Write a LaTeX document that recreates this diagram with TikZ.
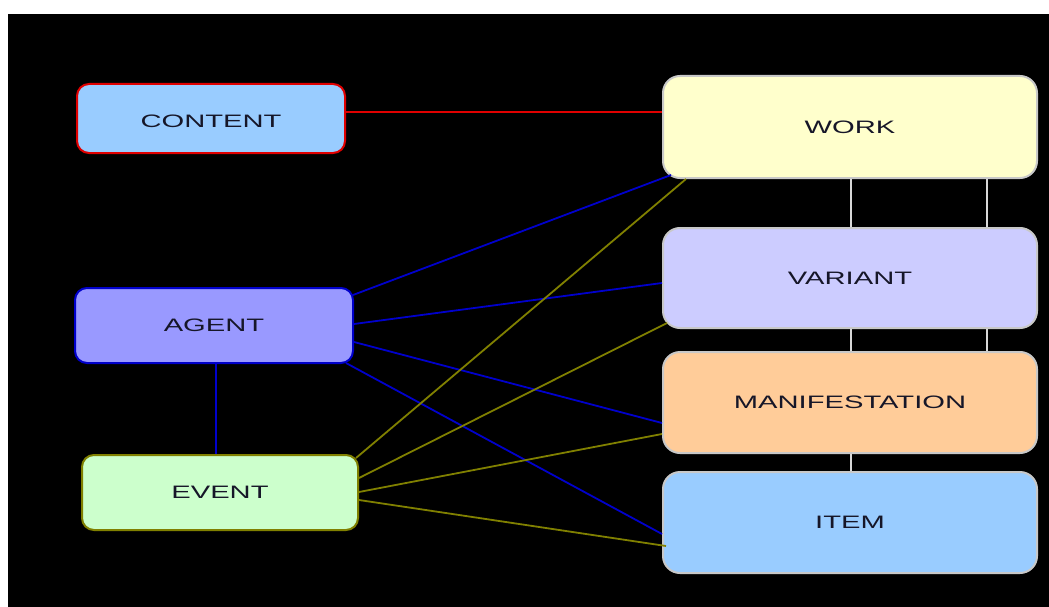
\documentclass[tikz,border=0pt]{standalone}
\usepackage{graphicx}
\usepackage{fontspec}
\setmainfont{Liberation Sans}
\usetikzlibrary{calc}
\definecolor{cBlueLine}{HTML}{0000CC}
\definecolor{cOlive}{HTML}{808000}
\definecolor{cRed}{HTML}{E00000}
\definecolor{cGrayBorder}{HTML}{C8C8C8}
\definecolor{cConn}{HTML}{D8D8D8}
\definecolor{cContent}{HTML}{99CCFF}
\definecolor{cWork}{HTML}{FFFFCC}
\definecolor{cAgent}{HTML}{9999FF}
\definecolor{cEvent}{HTML}{CCFFCC}
\definecolor{cVariant}{HTML}{CCCCFF}
\definecolor{cManif}{HTML}{FFCC99}
\definecolor{cItem}{HTML}{99CCFF}
\definecolor{cText}{HTML}{161628}
\newcommand{\lbl}[1]{\scalebox{1.62}[1]{#1}}
\begin{document}
\begin{tikzpicture}[x=1pt,y=-1pt,
  box/.style={draw, line width=2pt, rectangle, inner sep=0pt, text=cText,
    font=\fontsize{18}{20}\selectfont, anchor=center},
  leftbox/.style={box, rounded corners=12pt},
  rightbox/.style={box, draw=cGrayBorder, rounded corners=17pt,
    minimum width=374pt, minimum height=101pt},
  blueline/.style={draw=cBlueLine, line width=1.8pt},
  oliveline/.style={draw=cOlive, line width=1.8pt},
  redline/.style={draw=cRed, line width=1.8pt},
  conn/.style={draw=cConn, line width=2.5pt}]
\useasboundingbox (0,0) rectangle (1049,607);
\fill[white] (0,0) rectangle (1049,607);
\fill[black] (8,14) rectangle (1049,607);

% left boxes
\node[leftbox, draw=cRed, fill=cContent, minimum width=268pt, minimum height=69pt] (content) at (211,118.5) {\raisebox{-9pt}[0pt][0pt]{\lbl{CONTENT}}};
\node[leftbox, draw=cBlueLine, fill=cAgent, minimum width=278pt, minimum height=75pt] (agent) at (214,325.5) {\lbl{AGENT}};
\node[leftbox, draw=cOlive, fill=cEvent, minimum width=276pt, minimum height=75pt] (event) at (220,492.5) {\lbl{EVENT}};

% right boxes
\node[rightbox, fill=cWork, minimum height=102pt] (work) at (850,127) {\lbl{WORK}};
\node[rightbox, fill=cVariant, minimum height=100pt] (variant) at (850,278) {\lbl{VARIANT}};
\node[rightbox, fill=cManif] (manif) at (850,402.5) {\lbl{MANIFESTATION}};
\node[rightbox, fill=cItem] (item) at (850,522.5) {\lbl{ITEM}};

% vertical connectors between right boxes
\draw[conn] ([xshift=1pt]work.south) -- ([xshift=1pt]variant.north);
\draw[conn] ([xshift=137pt]work.south) -- ([xshift=137pt]variant.north);
\draw[conn] ([xshift=1pt]variant.south) -- ([xshift=1pt]manif.north);
\draw[conn] ([xshift=137pt]variant.south) -- ([xshift=137pt]manif.north);
\draw[conn] ([xshift=1pt]manif.south) -- ([xshift=1pt]item.north);

% content - work
\draw[redline] ([yshift=6.5pt]content.east) -- ([yshift=15pt]work.west);

% agent - event
\draw[blueline] ([xshift=2pt]agent.south) -- ([xshift=2pt]agent.south |- event.north);

% agent lines
\draw[blueline] ([xshift=-1pt,yshift=30.5pt]agent.east) -- ([xshift=9pt,yshift=4pt]work.south west);
\draw[blueline] ([yshift=1.5pt]agent.east) -- ([yshift=-5pt]variant.west);
\draw[blueline] ([yshift=-16.5pt]agent.east) -- ([yshift=-20.5pt]manif.west);
\draw[blueline] ([xshift=-8pt,yshift=1pt]agent.south east) -- ([yshift=-11.5pt]item.west);

% event lines
\draw[oliveline] ([xshift=-3pt,yshift=-4pt]event.north east) -- ([xshift=24pt]work.south west);
\draw[oliveline] ([yshift=14.5pt]event.east) -- ([xshift=5pt,yshift=6pt]variant.south west);
\draw[oliveline] ([yshift=0.5pt]event.east) -- ([yshift=-31.5pt]manif.west);
\draw[oliveline] ([yshift=-7.5pt]event.east) -- ([xshift=4pt,yshift=-23.5pt]item.west);
\end{tikzpicture}
\end{document}
